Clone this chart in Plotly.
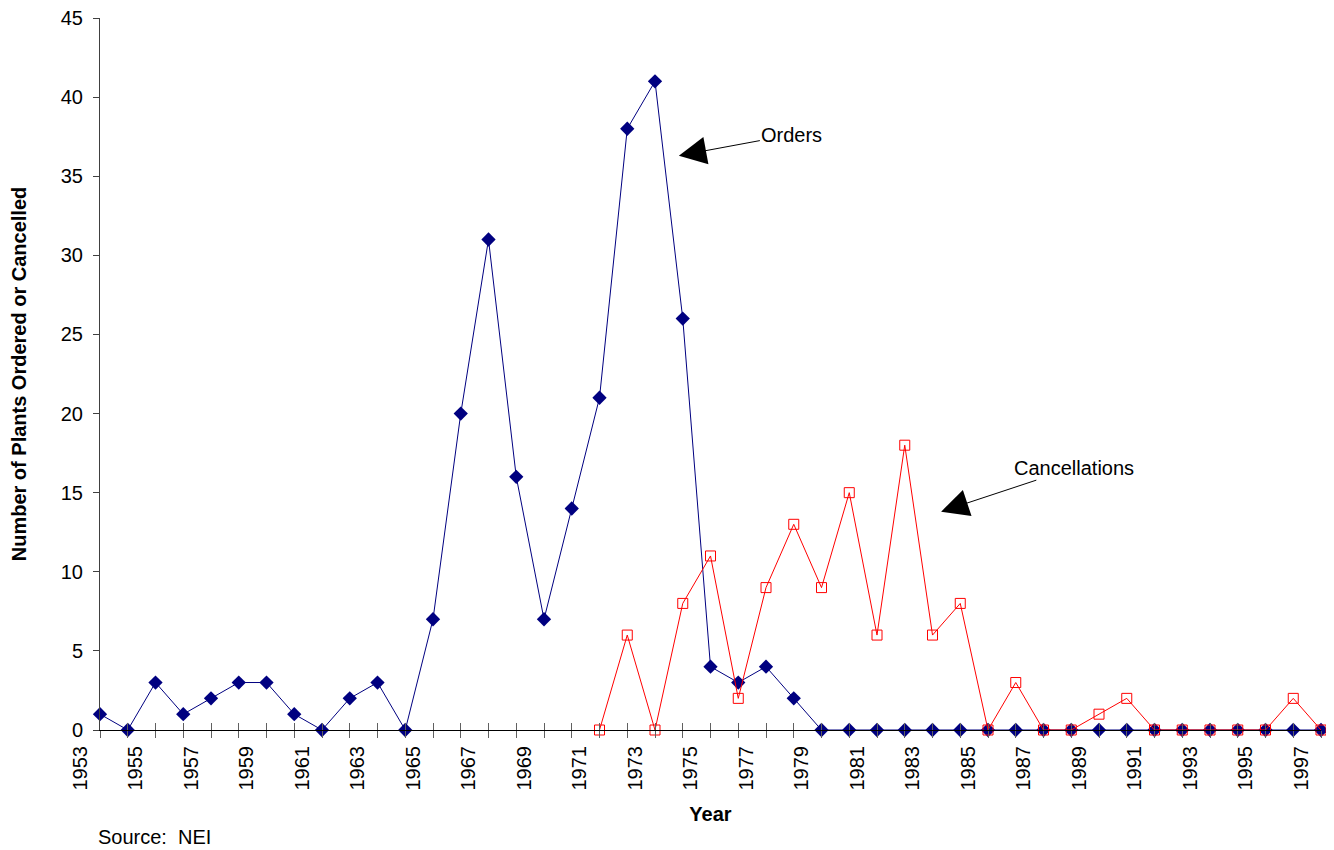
import plotly.graph_objects as go

years = list(range(1953, 1998))
orders = [1, 0, 3, 1, 2, 3, 3, 1, 0, 2, 3, 0, 7, 20, 31, 16, 7, 14, 21, 38, 41, 26,
          4, 3, 4, 2] + [0] * 19
cancel_years = list(range(1971, 1998))
cancellations = [0, 6, 0, 8, 11, 2, 9, 13, 9, 15, 6, 18, 6, 8, 0, 3, 0, 0, 1, 2,
                 0, 0, 0, 0, 0, 2, 0]
label_years = list(range(1953, 1998, 2))

FONT = "Liberation Sans, Arial, sans-serif"

fig = go.Figure()
fig.add_trace(go.Scatter(
    x=years, y=orders, mode="lines+markers", name="Orders",
    line=dict(color="#000080", width=1),
    marker=dict(symbol="diamond", size=11, color="#000080"),
    cliponaxis=False, xaxis="x", yaxis="y",
))
fig.add_trace(go.Scatter(
    x=cancel_years, y=cancellations, mode="lines+markers", name="Cancellations",
    line=dict(color="#FF0000", width=1),
    marker=dict(symbol="square-open", size=10, color="#FF0000", line=dict(width=1)),
    cliponaxis=False, xaxis="x2", yaxis="y",
))

fig.update_layout(
    width=1326, height=842,
    margin=dict(l=92, r=13, t=10, b=120, autoexpand=False),
    paper_bgcolor="white", plot_bgcolor="white",
    showlegend=False,
    font=dict(family=FONT, size=20, color="black"),
    xaxis=dict(
        range=[1953, 1997], showgrid=False, zeroline=False, automargin=False,
        showline=True, linecolor="black", linewidth=1,
        tickmode="array", tickvals=years,
        ticktext=[str(y) if y in label_years else "" for y in years],
        ticks="outside", ticklen=7, tickcolor="#606060", tickwidth=1,
        tickangle=-90, ticklabelshift=-20, ticklabeloverflow="allow",
        tickfont=dict(size=20),
        title=dict(text="<b>Year</b>", font=dict(size=20), standoff=17),
    ),
    xaxis2=dict(
        range=[1953, 1997], matches="x", overlaying="x", anchor="y", side="bottom",
        showgrid=False, zeroline=False, showline=False, automargin=False,
        tickmode="array", tickvals=years, showticklabels=False,
        ticks="inside", ticklen=7, tickcolor="#606060", tickwidth=1,
    ),
    yaxis=dict(
        range=[0, 45], showgrid=False, zeroline=False, automargin=False,
        showline=True, linecolor="#404040", linewidth=1,
        tickmode="linear", tick0=0, dtick=5,
        ticks="outside", ticklen=6, tickcolor="#404040",
        ticklabelstandoff=6, ticklabeloverflow="allow",
        tickfont=dict(size=20),
        title=dict(text="<b>Number of Plants Ordered or Cancelled</b>",
                   font=dict(size=20), standoff=36),
    ),
    annotations=[
        dict(x=1973.86, y=36.3, xref="x", yref="y", text="Orders",
             showarrow=True, ax=113, ay=-21, arrowhead=2, arrowsize=5.5,
             arrowwidth=1, arrowcolor="black", font=dict(size=20)),
        dict(x=1983.31, y=13.8, xref="x", yref="y", text="Cancellations",
             showarrow=True, ax=133, ay=-44, arrowhead=2, arrowsize=5.5,
             arrowwidth=1, arrowcolor="black", font=dict(size=20)),
        dict(x=-0.003, y=-0.1503, xref="paper", yref="paper", text="Source:  NEI",
             showarrow=False, xanchor="left", yanchor="middle", font=dict(size=20)),
    ],
)

fig.write_html("out.html")
